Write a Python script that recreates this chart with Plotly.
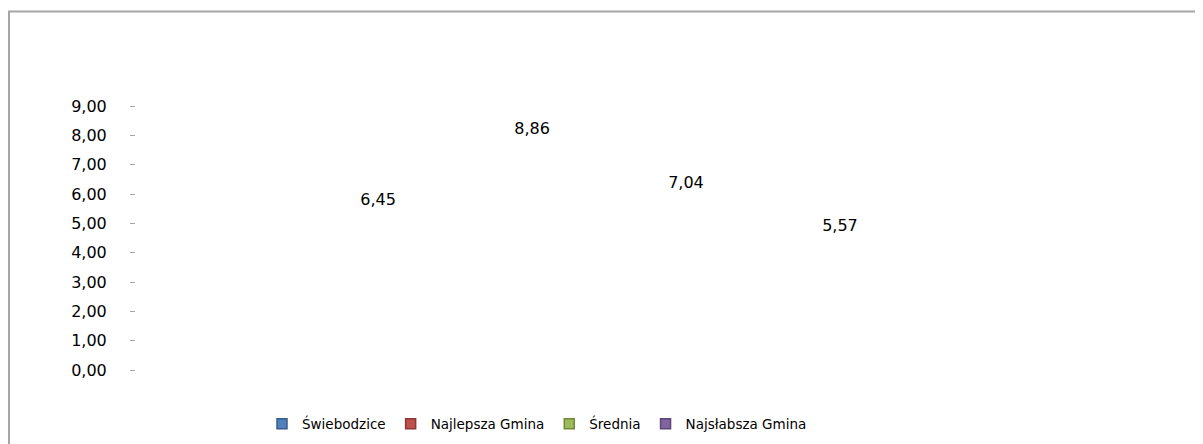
import plotly.graph_objects as go

series_names = ["Świebodzice", "Najlepsza Gmina", "Średnia", "Najsłabsza Gmina"]
series_values = [6.45, 8.86, 7.04, 5.57]
series_colors = ["#4F81BD", "#C0504D", "#9BBB59", "#8064A2"]
border_colors = ["#385D8A", "#8C3836", "#71893F", "#5C4776"]
category = ["Wskaźnik"]
tick_vals = [0, 1, 2, 3, 4, 5, 6, 7, 8, 9]

W, H = 1203, 444
L, R, T, B = 128, 1074, 98, 372
pw, ph = R - L, B - T
NUM_FONT = dict(family="DejaVu Sans", size=16, color="#000000")

fig = go.Figure()
# value labels (the bars themselves are drawn without fill in the original)
for name, val in zip(series_names, series_values):
    fig.add_trace(go.Scatter(
        x=category, y=[val], name=name, showlegend=False,
        mode="markers+text", offsetgroup=name,
        marker=dict(size=18, color="rgba(0,0,0,0)"),
        text=[f"{val:.2f}".replace(".", ",")],
        textposition="bottom center", textfont=NUM_FONT,
        hoverinfo="skip",
    ))
for name, col, bc in zip(series_names, series_colors, border_colors):
    fig.add_trace(go.Scatter(
        x=[None], y=[None], mode="markers", name=name,
        marker=dict(symbol="square", size=10, color=col, line=dict(color=bc, width=1.5)),
    ))

fig.update_layout(
    width=W, height=H,
    margin=dict(l=L, r=W - R, t=T, b=H - B, pad=0),
    paper_bgcolor="white", plot_bgcolor="white",
    scattermode="group", scattergap=0.349,
    separators=", ",
    font=dict(family="DejaVu Sans", size=13, color="#000000"),
    showlegend=True,
    legend=dict(orientation="h", x=(529 - L) / pw, xanchor="center",
                y=(B - 428) / ph, yanchor="middle",
                font=dict(size=13.5, family="DejaVu Sans", color="#000000"),
                itemwidth=30, tracegroupgap=0, traceorder="normal"),
    xaxis=dict(showticklabels=False, showline=False, showgrid=False,
               zeroline=False, ticks="", type="category", range=[-0.5, 0.5]),
    yaxis=dict(range=[0, 9], tickvals=tick_vals, tickformat=".2f",
               showline=False, showgrid=False, zeroline=False,
               ticks="outside", ticklen=5, tickcolor="#a6a6a6", tickwidth=1,
               ticklabelstandoff=20, tickfont=NUM_FONT),
    shapes=[dict(type="rect", xref="paper", yref="paper",
                 x0=(1 - L) / pw, x1=(1300 - L) / pw,
                 y0=(B - 520) / ph, y1=(B - 0) / ph,
                 line=dict(color="#a6a6a6", width=2), fillcolor="rgba(0,0,0,0)",
                 layer="below")],
)

fig.write_html("out.html")
